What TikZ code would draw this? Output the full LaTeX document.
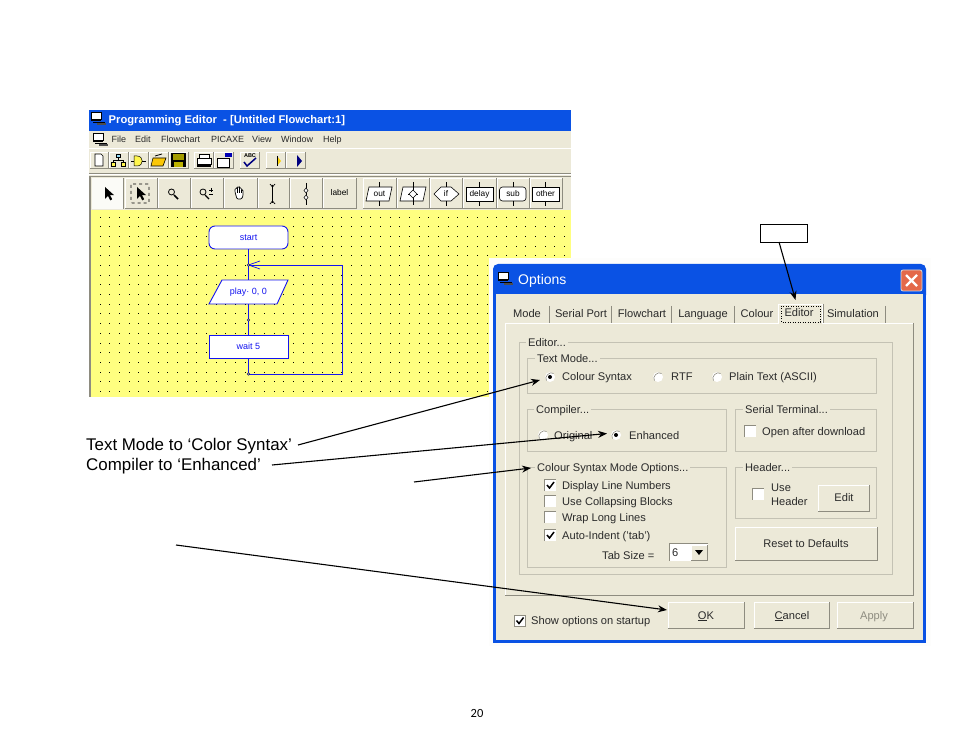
\documentclass[tikz,border=0pt]{standalone}
\usepackage{fontspec}
\setmainfont{Liberation Sans}
\newfontfamily\pagefont{Carlito}
\usetikzlibrary{arrows.meta,calc}
\definecolor{beige}{HTML}{ECE9D8}
\definecolor{xpblue}{HTML}{0A52E4}
\definecolor{canvas}{HTML}{FFFF80}
\definecolor{flow}{HTML}{1414F0}
\definecolor{grp}{HTML}{C4C2B4}
\definecolor{btndark}{HTML}{8E8C80}
\definecolor{uitext}{HTML}{2A2A2A}
\definecolor{closered}{HTML}{E4694A}
\tikzset{
  ui/.style={inner sep=0pt,anchor=west,text=uitext,text height=10pt,text depth=2pt,font=\fontsize{11.1}{13}\selectfont},
  uic/.style={ui,anchor=center},
  menutxt/.style={ui,text height=8pt,text depth=2pt,font=\fontsize{9}{11}\selectfont},
  tooltxt/.style={uic,text=black,text height=6pt,text depth=1.5pt,font=\fontsize{8.3}{10}\selectfont},
  flowbox/.style={draw=flow,line width=0.9pt,fill=white,minimum width=79pt,inner sep=0pt,text=flow,font=\fontsize{9}{10}\selectfont},
  flowline/.style={draw=flow,line width=0.9pt},
  callout/.style={draw=black,line width=1.1pt,-{Stealth[length=9pt,width=7pt]}},
  note/.style={inner sep=0pt,anchor=west,text=black,text height=14pt,text depth=2.5pt,font=\fontsize{16.9}{19}\selectfont},
  iconline/.style={draw=black,line width=0.6pt},
}
\newcommand{\btn}[4]{%
  \fill[beige] (#1,#2) rectangle (#3,#4);
  \draw[white,line width=0.8pt] (#1,#4) -- (#1,#2) -- (#3,#2);
  \draw[btndark,line width=1pt] (#1,#4) -- (#3,#4) -- (#3,#2);}
\newcommand{\grpbox}[4]{\draw[grp,line width=0.8pt] (#1,#2) rectangle (#3,#4);}
\newcommand{\chk}[3]{%
  \fill[white] (#1,#2) rectangle ++(11.5,11.5);
  \draw[btndark,line width=0.7pt] (#1,#2+11.5) -- (#1,#2) -- (#1+11.5,#2);
  \ifnum#3=1 \draw[black,line width=1.5pt] (#1+2.5,#2+5.5) -- (#1+5,#2+8.5) -- (#1+9.5,#2+2.5);\fi}
\newcommand{\rad}[3]{%
  \fill[white] (#1,#2) circle (5pt);
  \draw[btndark,line width=0.6pt] (#1-3.5,#2+3.5) .. controls (#1-6.5,#2) and (#1,#2-6.5) .. (#1+3.5,#2-3.5);
  \ifnum#3=1 \fill[black] (#1,#2) circle (2pt);\fi}
\newcommand{\cursorat}[2]{\fill[black] (#1,#2) -- ++(0,12) -- ++(3,-3) -- ++(2.2,4.3) -- ++(2,-1) -- ++(-2.2,-4.2) -- ++(4,0) -- cycle;}
\newcommand{\pcicon}[2]{%
  \draw[black,fill=white,line width=0.7pt] (#1,#2) rectangle ++(10,7);
  \fill[black] (#1,#2+7) rectangle ++(10,2);
  \draw[black,line width=0.7pt] (#1+2,#2+10) -- ++(12,0);
  \fill[black!70] (#1+6,#2+11) rectangle ++(9,1.6);}
\begin{document}
\begin{tikzpicture}[x=1pt,y=-1pt]
\useasboundingbox (0,0) rectangle (954,738);
\fill[white] (0,0) rectangle (954,738);
%% ---------- programming editor window
\fill[beige] (89,131) rectangle (571,210);
\fill[xpblue] (89,110) rectangle (571,131.5);
\pcicon{91}{112}
\node[inner sep=0pt,anchor=west,text=white,font=\fontsize{11.2}{12}\selectfont\bfseries] (edtitle) at (108.5,121) {Programming Editor \ - [Untitled Flowchart:1]};
\pcicon{93}{133}
\node[menutxt] (mfile) at (111.5,140) {File};
\node[menutxt] (medit) at (135,140) {Edit};
\node[menutxt] (mflow) at (161,140) {Flowchart};
\node[menutxt] (mpic) at (211,140) {PICAXE};
\node[menutxt] (mview) at (252,140) {View};
\node[menutxt] (mwin) at (281,140) {Window};
\node[menutxt] (mhelp) at (323,140) {Help};
\draw[white,line width=0.7pt] (89,148.5) -- (571,148.5);
\draw[btndark,line width=0.6pt] (89,173) -- (571,173);
\draw[white,line width=0.7pt] (89,174) -- (571,174);
% small toolbar
\foreach \a/\b in {90/108,109/128,129/148,149/168,169/188,194/213,214/233,240/259,266/285,286/305}{\btn{\a}{152}{\b}{169}}
\draw[black,fill=white,line width=0.6pt] (95,154) -- (101,154) -- (103,156) -- (103,166) -- (95,166) -- cycle;
\draw[black,fill=cyan!40,line width=0.5pt] (116,154) rectangle ++(4,3);
\draw[black,fill=yellow!70,line width=0.5pt] (111,162) rectangle ++(4,4);
\draw[black,fill=yellow!70,line width=0.5pt] (121,162) rectangle ++(4,4);
\draw[black,line width=0.5pt] (118,157) -- (118,160) (113,162) -- (113,160) -- (123,160) -- (123,162);
\draw[black,fill=yellow!70,line width=0.5pt] (134,156) -- (137,156) .. controls (144,156) and (144,166) .. (137,166) -- (134,166) -- cycle;
\draw[black,line width=0.5pt] (131,161) -- (134,161) (142,161) -- (146,161);
\draw[black,fill=yellow!60!orange,line width=0.6pt] (151,166) -- (153,158) -- (166,158) -- (163,166) -- cycle;
\draw[black,line width=0.8pt] (155,156) -- (162,154);
\fill[black] (171,153) rectangle (186,167);
\fill[olive!80!yellow] (173,154) rectangle (184,160);
\fill[olive!60!yellow] (174,162) rectangle (183,167);
\draw[black,fill=white,line width=0.6pt] (197,158) rectangle (211,164);
\draw[black,fill=white,line width=0.6pt] (199,154) rectangle (209,158);
\fill[black] (197,164) rectangle (211,167);
\draw[black,fill=white,line width=0.6pt] (217,158) rectangle (229,167);
\fill[blue!70!black] (225,153) rectangle (232,157);
\node[inner sep=0pt,text=black,font=\fontsize{5.5}{6}\selectfont\bfseries] (abc) at (250,156) {ABC};
\draw[blue!50!black,line width=1.5pt] (244,162) -- (247,166) -- (256,158);
\fill[yellow!70!orange] (277,156) -- (281,161) -- (277,166) -- cycle;
\draw[black,line width=0.5pt] (277,156) -- (277,166);
\fill[blue!50!black] (297,155) -- (302,161) -- (297,167) -- cycle;
% big toolbar
\draw[btndark,line width=1pt] (90,177) -- (571,177);
\draw[btndark,line width=1.6pt] (90,176) -- (90,397);
\foreach \a/\b in {92/123,125/157,158/190,191/223,224/257,258/289,290/322,323/356,363/396,397/429,430/462,463/496,497/529,530/562}{\btn{\a}{178}{\b}{209}}
\fill[white!80!beige] (92,178) rectangle (123,209);
\cursorat{105}{187}
\draw[black,dashed,line width=0.7pt,rounded corners=1pt] (131,184) rectangle (149,203);
\cursorat{137}{187}
\draw[black,line width=0.8pt] (171.5,192) circle (3pt);
\draw[black,line width=1.5pt] (174,195) -- (178,199);
\draw[black,line width=0.8pt] (203,192) circle (3pt);
\draw[black,line width=1.4pt] (205,195) -- (209,199);
\draw[black,line width=0.6pt] (209,190) -- (213,190) (211,188) -- (211,192) (209,194) -- (213,194);
\draw[black,fill=white,line width=0.7pt,rounded corners=1pt] (235,192) -- (235,188.5) -- (237,188.5) -- (237,187) -- (239.5,187) -- (239.5,188) -- (241.5,188) -- (241.5,190) -- (243,190) -- (243,196) -- (241.5,199) -- (237,199) -- cycle;
\draw[black,line width=0.5pt] (237,188.5) -- (237,193) (239.5,188) -- (239.5,193) (241.5,190) -- (241.5,193);
\draw[black,line width=0.7pt] (272.5,185) -- (272.5,203) (270,184) -- (272.5,187) -- (275,184) (270,204) -- (272.5,201) -- (275,204);
\draw[black,line width=0.7pt] (306,183) -- (306,205);
\draw[black,fill=white,line width=0.5pt] (306,188) -- (308,190.5) -- (306,193) -- (304,190.5) -- cycle;
\draw[black,fill=white,line width=0.5pt] (306,195) -- (308,197.5) -- (306,200) -- (304,197.5) -- cycle;
\node[tooltxt] (tlabel) at (339.5,193.5) {label};
\draw[iconline,fill=white] (369,187) -- (392,187) -- (389,201) -- (366,201) -- cycle;
\draw[iconline] (379.5,182) -- (379.5,187) (379.5,201) -- (379.5,206);
\node[tooltxt] (tout) at (379.5,194) {out};
\draw[iconline,fill=white] (403,187) -- (426,187) -- (423,201) -- (400,201) -- cycle;
\draw[iconline] (413,182) -- (413,205);
\draw[iconline] (408,194) -- (418,194);
\draw[iconline,fill=white] (413,190) -- (417,194) -- (413,198) -- (409,194) -- cycle;
\draw[iconline,fill=white] (434,194) -- (441,187) -- (451,187) -- (459,194) -- (451,201) -- (441,201) -- cycle;
\draw[iconline] (446,182) -- (446,187) (446,201) -- (446,206);
\node[tooltxt] (tif) at (446,194) {if};
\draw[iconline,fill=white] (466,187) rectangle (493,201);
\draw[iconline] (479.5,182) -- (479.5,187) (479.5,201) -- (479.5,206);
\node[tooltxt] (tdelay) at (479.5,194) {delay};
\draw[iconline,fill=white,rounded corners=3pt] (499.5,187) rectangle (526,201);
\draw[iconline] (513,182) -- (513,187) (513,201) -- (513,206);
\node[tooltxt] (tsub) at (513,194) {sub};
\draw[iconline,fill=white] (532,187) rectangle (559,201);
\draw[iconline] (545.5,182) -- (545.5,187) (545.5,201) -- (545.5,206);
\node[tooltxt] (tother) at (545.5,194) {other};
%% ---------- canvas
\fill[canvas] (91,210) rectangle (571,397);
\foreach \i in {0,...,48}{\foreach \j in {0,...,18}{
  \fill[black] ({99.7+9.67*\i},{216.8+9.67*\j}) rectangle ++(1,1);}}
%% ---------- flowchart
\node[flowbox,rounded corners=6pt,minimum height=23pt] (start) at (248.5,237.5) {start};
\coordinate (j1) at (248.5,265);
\node[inner sep=0pt,minimum width=79pt,minimum height=24pt] (play) at (248.5,292) {};
\draw[flowline,fill=white] (222,280) -- (288,280) -- (277,304) -- (209,304) -- cycle;
\node[inner sep=0pt,text=flow,font=\fontsize{9}{10}\selectfont] (playtxt) at (248.5,292) {play· 0, 0};
\coordinate (j2) at (248.5,320);
\node[flowbox,minimum height=23pt] (wait) at (248.5,346.5) {wait 5};
\coordinate (j3) at (248.5,374);
\coordinate (back1) at (342.5,374);
\coordinate (back2) at (342.5,265);
\draw[flowline] (start) -- (j1) -- (play.north) (play.south) -- (j2) -- (wait) (wait) -- (j3) -- (back1) -- (back2) -- (j1);
\draw[flowline,line width=0.7pt] (260,261) -- (j1) -- (260,269);
\foreach \p in {j1,j2,j3}{\fill[flow!50!black] (\p) circle (1.6pt);\fill[canvas] (\p) circle (0.6pt);}
%% ---------- options window
\fill[white!92!beige] (489,258) rectangle (931,646);
\fill[xpblue,rounded corners=5pt] (493,264) rectangle (926,300);
\fill[xpblue] (493,280) rectangle (926,643);
\fill[beige] (496,294) rectangle (923,640);
\pcicon{498}{272}
\node[inner sep=0pt,anchor=west,text=white,font=\fontsize{14}{16}\selectfont] (optitle) at (518,281) {Options};
\draw[white!70!gray,line width=0.8pt,fill=closered,rounded corners=2pt] (901,270) rectangle (922,291);
\draw[white,line width=2.2pt] (906,275) -- (917,286) (917,275) -- (906,286);
% tab panel
\draw[white,line width=0.8pt] (505,595) -- (505,323) -- (913,323);
\draw[btndark,line width=0.9pt] (913,323) -- (913,595) -- (505,595);
\fill[white] (778,304) rectangle (823,324);
\fill[beige] (779,305) rectangle (822,324);
\draw[btndark,line width=1pt] (823,304) -- (823,323);
\foreach \s in {549,611,671,734,885}{\draw[btndark,line width=0.9pt] (\s,306) -- (\s,323);}
\node[uic] (tmode) at (527,314) {Mode};
\node[uic] (tserial) at (581,314) {Serial Port};
\node[uic] (tflow) at (642,314) {Flowchart};
\node[uic] (tlang) at (703,314) {Language};
\node[uic] (tcol) at (757,314) {Colour};
\node[uic] (ted) at (799,312.5) {Editor};
\draw[black,dotted,line width=0.5pt] (781,306) rectangle (820,322);
\node[uic] (tsim) at (853,314) {Simulation};
% groups
\grpbox{519}{342}{892}{574}
\node[ui,fill=beige,inner xsep=2pt] (gedit) at (526,342) {Editor...};
\grpbox{527}{358}{876}{393}
\node[ui,fill=beige,inner xsep=2pt] (gtext) at (535,358.5) {Text Mode...};
\rad{550}{377}{1}
\node[ui] (lcs) at (562,377) {Colour Syntax};
\rad{658}{377}{0}
\node[ui] (lrtf) at (671,377) {RTF};
\rad{717}{377}{0}
\node[ui] (lpt) at (729,377) {Plain Text (ASCII)};
\grpbox{527}{409}{726}{451}
\node[ui,fill=beige,inner xsep=2pt] (gcomp) at (534,409) {Compiler...};
\rad{543}{435}{0}
\node[ui] (lorig) at (554,435) {Original};
\rad{616}{435}{1}
\node[ui] (lenh) at (629,435) {Enhanced};
\grpbox{735}{409}{876}{451}
\node[ui,fill=beige,inner xsep=2pt] (gser) at (743,409) {Serial Terminal...};
\chk{744}{425}{0}
\node[ui] (lopen) at (762,431) {Open after download};
\grpbox{527}{467}{726}{567}
\node[ui,fill=beige,inner xsep=2pt] (gcsm) at (535,467) {Colour Syntax Mode Options...};
\chk{544.5}{479.5}{1}
\node[ui] (ldisp) at (562,485) {Display Line Numbers};
\chk{544.5}{495}{0}
\node[ui] (lcoll) at (562,501) {Use Collapsing Blocks};
\chk{544.5}{511}{0}
\node[ui] (lwrap) at (562,517) {Wrap Long Lines};
\chk{544.5}{529.5}{1}
\node[ui] (lauto) at (562,535) {Auto-Indent ('tab')};
\node[ui] (ltab) at (602,555) {Tab Size =};
\fill[white] (669,543) rectangle (708,561);
\draw[btndark,line width=1pt] (708,543) -- (669,543) -- (669,561);
\node[ui] (lsix) at (672,552.5) {6};
\btn{691}{545}{707}{560}
\fill[black] (695,550) -- (703,550) -- (699,555) -- cycle;
\grpbox{735}{467}{876}{518}
\node[ui,fill=beige,inner xsep=2pt] (ghead) at (743,467) {Header...};
\chk{752}{488}{0}
\node[ui] (luse) at (771,487) {Use};
\node[ui] (lhead) at (771,501) {Header};
\btn{818}{485}{869}{511}
\node[uic] (ledit) at (844,497) {Edit};
\btn{735}{527}{877}{560}
\node[uic] (lreset) at (806,543) {Reset to Defaults};
% bottom
\chk{514}{615}{1}
\draw[btndark,line width=0.8pt] (514,615) rectangle ++(11.5,11.5);
\node[ui] (lshow) at (531,620.5) {Show options on startup};
\btn{668}{602}{744}{628}
\node[uic] (lok) at (706,615) {\underline{O}K};
\btn{754}{602}{829}{628}
\node[uic] (lcancel) at (792,615) {\underline{C}ancel};
\btn{837}{602}{913}{628}
\node[uic,text=btndark] (lapply) at (874,615) {Apply};
%% ---------- annotations
\node[draw=black,line width=0.8pt,fill=white,minimum width=47pt,minimum height=18pt,inner sep=0pt] (notebox) at (783.5,233) {};
\coordinate (noteout) at (779,242);
\coordinate (tabtip) at (795.5,300);
\coordinate (cstip) at (540,380);
\coordinate (enhtip) at (607,433.5);
\coordinate (csmtip) at (531,468);
\coordinate (oktip) at (667,610);
\coordinate (csmfree) at (414,482);
\coordinate (okfree) at (176,545);
\node[note] (n1) at (86,445) {Text Mode to ‘Color Syntax’};
\node[note] (n2) at (86,464.5) {Compiler to ‘Enhanced’};
\coordinate (n1out) at (298,445);
\coordinate (n2out) at (272,465);
\draw[callout] (noteout) -- (tabtip);
\draw[callout] (n1out) -- (cstip);
\draw[callout] (n2out) -- (enhtip);
\draw[callout] (csmfree) -- (csmtip);
\draw[callout] (okfree) -- (oktip);
\node[inner sep=0pt,text=black,font=\pagefont\fontsize{12.5}{15}\selectfont] (pageno) at (477,713) {20};
\end{tikzpicture}
\end{document}
